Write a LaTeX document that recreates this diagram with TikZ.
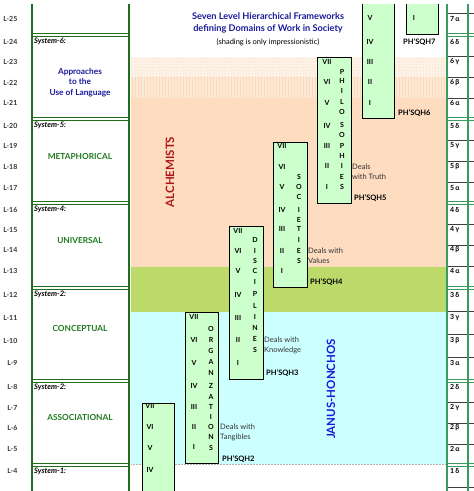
\documentclass[tikz,border=0pt]{standalone}
\usepackage{fontspec}
\setmainfont{Lato}
\usetikzlibrary{patterns}
\definecolor{dkgreen}{HTML}{1E6E1E}
\definecolor{colgreen}{HTML}{3A9A60}
\definecolor{boxgreen}{HTML}{CCFFCC}
\definecolor{peach}{HTML}{FDDCC0}
\definecolor{peachlt}{HTML}{FEF3E8}
\definecolor{peachmd}{HTML}{FCE9D8}
\definecolor{dotor}{HTML}{F8C898}
\definecolor{limeg}{HTML}{BCDA6A}
\definecolor{cyanlt}{HTML}{CCFFFF}
\definecolor{titleblue}{HTML}{1A1A9C}
\definecolor{alchred}{HTML}{B01818}
\definecolor{janusblue}{HTML}{1A1ADC}
\definecolor{sysgreen}{HTML}{1E7A1E}
\definecolor{txtgrey}{HTML}{333333}
\newcommand\fsTiny{\fontsize{7}{7.5}\selectfont}
\newcommand\fsSys{\fontsize{7.6}{8}\selectfont}
\newcommand\fsSmall{\fontsize{7.5}{10.5}\selectfont}
\newcommand\fsMid{\fontsize{8.3}{10.5}\selectfont}
\newcommand\fsBig{\fontsize{9.2}{12}\selectfont}
\newcommand\fsHuge{\fontsize{11.5}{12}\selectfont}
\begin{document}
\begin{tikzpicture}[x=1pt,y=-1pt,
  lvl/.style={anchor=east,inner sep=0pt,font=\fsTiny\bfseries,text=txtgrey},
  rlab/.style={anchor=west,inner sep=0pt,font=\fsTiny\bfseries,text=black},
  num/.style={inner sep=0pt,font=\fsTiny\bfseries,text=black},
  let/.style={inner sep=0pt,font=\fsTiny\bfseries,text=black},
  deals/.style={anchor=west,inner sep=0pt,align=left,font=\fsSmall,text=txtgrey},
  phs/.style={anchor=west,inner sep=0pt,font=\fsSmall\bfseries,text=black},
  syslab/.style={anchor=west,inner sep=0pt,font=\fsSys\bfseries\itshape,text=black},
  sysname/.style={inner sep=0pt,align=center,font=\fsMid\bfseries,text=sysgreen},
  gbox/.style={fill=boxgreen},
  gedge/.style={draw=black,line width=0.8pt},
  colline/.style={dkgreen,line width=1.4pt},
  dbl/.style={line width=1pt},
]
\useasboundingbox (0,0) rectangle (474,491);
% ---------- shading ----------
\fill[peachlt] (131,57) rectangle (447,77);
\fill[pattern=dots,pattern color=dotor] (131,57) rectangle (447,77);
\fill[peachmd] (131,77) rectangle (447,98);
\fill[pattern=vertical lines,pattern color=dotor!70] (131,77) rectangle (447,98);
\fill[peach] (131,98) rectangle (447,266.5);
\fill[limeg] (131,266.5) rectangle (447,311.5);
\fill[cyanlt] (131,311.5) rectangle (447,464);
\draw[gray!60,densely dotted,line width=0.5pt] (131,464) -- (447,464);
% ---------- title ----------
\node[inner sep=0pt,align=center,font=\fsBig\bfseries,text=titleblue] (title) at (268,23)
  {Seven Level Hierarchical Frameworks\\defining Domains of Work in Society};
\node[inner sep=0pt,font=\fsSmall,text=black] (shade) at (268,42) {(shading is only impressionistic)};
% ---------- big labels ----------
\node[rotate=90,inner sep=0pt,font=\fsHuge\bfseries,text=alchred] (alch) at (170,172) {ALCHEMISTS};
\node[rotate=90,inner sep=0pt,font=\fsHuge\bfseries,text=janusblue] (janus) at (331,389) {JANUS-HONCHOS};
% ---------- left column ----------
\draw[colline] (32,4) -- (32,491);
\draw[colline] (129,4) -- (129,491);
\foreach \y in {35,119,203,288,381,465}{
  \draw[dkgreen,dbl] (32,\y-1.4) -- (129,\y-1.4);
  \draw[dkgreen,dbl] (32,\y+1.4) -- (129,\y+1.4);
}
\foreach \t/\y in {25/19,24/42,23/62,22/83,21/103,20/126,19/146,18/167,17/188,16/210,15/230,14/250,13/271,12/295,11/318,10/341,9/363,8/387,7/408,6/428,5/449,4/471}
  \node[lvl] (L\t) at (17.5,\y) {L-\t};
\node[syslab] (s6) at (34,41) {System-6:};
\node[syslab] (s5) at (34,125) {System-5:};
\node[syslab] (s4) at (34,209) {System-4:};
\node[syslab] (s3) at (34,294) {System-2:};
\node[syslab] (s2) at (34,387) {System-2:};
\node[syslab] (s1) at (34,471) {System-1:};
\node[sysname,text=titleblue] (n6) at (80,82.5) {Approaches\\to the\\Use of Language};
\node[sysname] (n5) at (80,156) {METAPHORICAL};
\node[sysname] (n4) at (80,240) {UNIVERSAL};
\node[sysname] (n3) at (80,328) {CONCEPTUAL};
\node[sysname] (n2) at (80,417) {ASSOCIATIONAL};
% ---------- right column ----------
\foreach \y in {13,56,77,98,140,161,182,224,245,266,311,334,357,402,423,444,487}
  \draw[black!75,line width=0.6pt] (447,\y) -- (474,\y);
\foreach \y in {35,119,203,288,381,465}{
  \draw[colgreen,dbl] (447,\y-1.4) -- (474,\y-1.4);
  \draw[colgreen,dbl] (447,\y+1.4) -- (474,\y+1.4);
}
\draw[colgreen,line width=1.1pt] (447,4) -- (447,491);
\draw[colgreen,line width=1.1pt] (468,4) -- (468,491);
\foreach \n/\t/\y in {a/7\,α/19,b/6\,δ/42,c/6\,γ/62,d/6\,β/83,e/6\,α/103,f/5\,δ/126,g/5\,γ/146,h/5\,β/167,i/5\,α/188,j/4\,δ/210,k/4\,γ/230,l/4\,β/250,m/4\,α/271,n/3\,δ/295,o/3\,γ/318,p/3\,β/341,q/3\,α/363,r/2\,δ/387,s/2\,γ/408,t/2\,β/428,u/2\,α/449,v/1\,δ/471}
  \node[rlab] (R\n) at (450,\y) {\t};
% ---------- green boxes ----------
% box 1
\fill[gbox] (142,403) rectangle (174,491);
\draw[gedge] (142,491) -- (142,403) -- (174,403) -- (174,491);
\foreach \t/\y in {VII/406,VI/427,V/448,IV/470}
  \node[num] (b1-\t) at (150,\y) {\t};
% box 2
\filldraw[gbox,gedge] (185,312) rectangle (218,463);
\foreach \t/\y in {VII/317,VI/340,V/363,IV/386,III/407,II/427,I/447}
  \node[num] (b2-\t) at (194,\y) {\t};
\foreach \t/\y [count=\i] in {O/329,R/340,G/351,A/362,N/373,Z/386,A/397,T/407,I/417,O/427,N/437,S/448}
  \node[let] (b2l\i) at (211,\y) {\t};
\node[deals] (d2) at (220,432.5) {Deals with\\Tangibles};
\node[phs] (p2) at (222,459) {PH’SQH2};
% box 3
\filldraw[gbox,gedge] (229,226) rectangle (263,379);
\foreach \t/\y in {VII/231,VI/251,V/271,IV/295,III/318,II/340,I/363}
  \node[num] (b3-\t) at (238,\y) {\t};
\foreach \t/\y [count=\i] in {D/240,I/251,S/261,C/271,I/282,P/294,L/306,I/317,N/328,E/339,S/350}
  \node[let] (b3l\i) at (255,\y) {\t};
\node[deals] (d3) at (264,345.5) {Deals with\\Knowledge};
\node[phs] (p3) at (266,373) {PH’SQH3};
% box 4
\filldraw[gbox,gedge] (273,142) rectangle (307,287);
\foreach \t/\y in {VII/146,VI/167,V/187,IV/210,III/229,II/251,I/271}
  \node[num] (b4-\t) at (282,\y) {\t};
\foreach \t/\y [count=\i] in {S/177,O/187,C/197,I/210,E/220,T/229,I/240,E/251,S/261}
  \node[let] (b4l\i) at (299,\y) {\t};
\node[deals] (d4) at (308,256) {Deals with\\Values};
\node[phs] (p4) at (310,282) {PH’SQH4};
% box 5
\filldraw[gbox,gedge] (317,57) rectangle (351,203);
\foreach \t/\y in {VII/62,VI/82,V/103,IV/126,III/146,II/166,I/187}
  \node[num] (b5-\t) at (327,\y) {\t};
\foreach \t/\y [count=\i] in {P/72,H/81,I/91,L/102,O/112,S/125,O/135,P/146,H/156,I/166,E/177,S/187}
  \node[let] (b5l\i) at (342,\y) {\t};
\node[deals] (d5) at (352,172) {Deals\\with Truth};
\node[phs] (p5) at (354,198) {PH’SQH5};
% box 6
\fill[gbox] (362,4) rectangle (394,118);
\draw[gedge] (362,4) -- (362,118) -- (394,118) -- (394,4);
\foreach \t/\y in {V/18,IV/42,III/62,II/82,I/103}
  \node[num] (b6-\t) at (370,\y) {\t};
\node[phs] (p6) at (398,113) {PH’SQH6};
% box 7
\fill[gbox] (406,4) rectangle (438,34);
\draw[gedge] (406,4) -- (406,34) -- (438,34) -- (438,4);
\node[num] (b7-I) at (414,18) {I};
\node[phs] (p7) at (403,42) {PH’SQH7};
\end{tikzpicture}
\end{document}
